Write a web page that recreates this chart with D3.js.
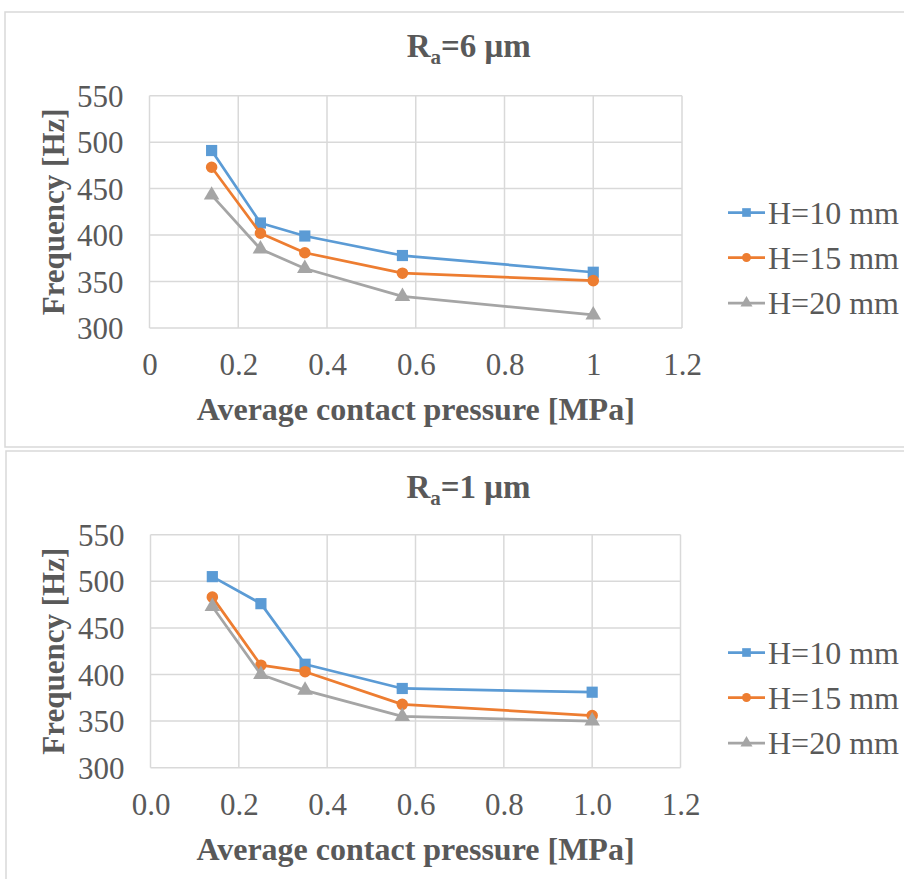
<!DOCTYPE html>
<html><head><meta charset="utf-8">
<script src="https://cdn.jsdelivr.net/npm/d3@7"></script>
<style>
body{margin:0;background:#fff;}
svg text{font-family:"Liberation Serif","Times New Roman",serif;fill:#595959;}
</style></head>
<body><svg id="c" width="904" height="879" font-family="Liberation Serif"></svg>
<script>
const pressure = [0.14, 0.25, 0.35, 0.57, 1.0];
const seriesNames = ["H=10 mm", "H=15 mm", "H=20 mm"];
const colors = ["#5b9bd5", "#ed7d31", "#a5a5a5"];
const shapes = ["square", "circle", "triangle"];
// Ra = 6 um
const ra6_H10 = [491, 413, 399, 378, 360];
const ra6_H15 = [473, 402, 381, 359, 351];
const ra6_H20 = [443, 385, 364, 334, 314];
// Ra = 1 um
const ra1_H10 = [505, 476, 411, 385, 381];
const ra1_H15 = [483, 410, 403, 368, 356];
const ra1_H20 = [473, 400, 383, 355, 350];
const xTicks = [0, 0.2, 0.4, 0.6, 0.8, 1.0, 1.2];
const yTicks = [300, 350, 400, 450, 500, 550];
const xTickLabelsTop = ["0", "0.2", "0.4", "0.6", "0.8", "1", "1.2"];
const xTickLabelsBottom = ["0.0", "0.2", "0.4", "0.6", "0.8", "1.0", "1.2"];

const svg = d3.select("#c");

function panel(cfg){
  const g = svg.append("g");
  g.append("rect").attr("x", cfg.box[0]).attr("y", cfg.box[1]).attr("width", cfg.box[2]).attr("height", cfg.box[3])
    .attr("fill", "#fff").attr("stroke", "#d9d9d9").attr("stroke-width", 1.5);
  const x = d3.scaleLinear().domain([0, 1.2]).range([cfg.left, cfg.right]);
  const y = d3.scaleLinear().domain([300, 550]).range([cfg.bottom, cfg.top]);
  // grid
  g.append("g").selectAll("line").data(xTicks).join("line")
    .attr("x1", d => x(d)).attr("x2", d => x(d)).attr("y1", cfg.top).attr("y2", cfg.bottom)
    .attr("stroke", "#d9d9d9").attr("stroke-width", 1.5);
  g.append("g").selectAll("line").data(yTicks).join("line")
    .attr("x1", cfg.left).attr("x2", cfg.right).attr("y1", d => y(d)).attr("y2", d => y(d))
    .attr("stroke", "#d9d9d9").attr("stroke-width", 1.5);
  // axes (labels only)
  const yAxis = g.append("g").attr("transform", `translate(${cfg.left},0)`)
    .call(d3.axisLeft(y).tickValues(yTicks).tickSize(0).tickPadding(26));
  yAxis.attr("font-family", "Liberation Serif");
  yAxis.select(".domain").remove();
  yAxis.selectAll("text").attr("font-size", 31).attr("fill", "#595959").attr("dy", "0.34em");
  const xAxis = g.append("g").attr("transform", `translate(0,${cfg.bottom})`)
    .call(d3.axisBottom(x).tickValues(xTicks).tickSize(0).tickPadding(36).tickFormat((d, i) => cfg.xLabels[i]));
  xAxis.attr("font-family", "Liberation Serif");
  xAxis.select(".domain").remove();
  xAxis.selectAll("text").attr("font-size", 31).attr("fill", "#595959").attr("dy", "0.36em");
  // title
  const t = g.append("text").attr("x", (cfg.left + cfg.right) / 2 + 53).attr("y", cfg.titleY)
    .attr("text-anchor", "middle").attr("font-size", 33).attr("font-weight", "bold");
  t.append("tspan").text("R");
  t.append("tspan").text("a").attr("font-size", 21).attr("dy", 7);
  t.append("tspan").text("=" + cfg.ra + " μm").attr("dy", -7);
  // axis titles
  g.append("text").attr("transform", `translate(${cfg.yTitleX},${(cfg.top + cfg.bottom) / 2}) rotate(-90)`)
    .attr("text-anchor", "middle").attr("font-size", 31).attr("font-weight", "bold").text("Frequency [Hz]");
  g.append("text").attr("x", (cfg.left + cfg.right) / 2).attr("y", cfg.bottom + 92)
    .attr("text-anchor", "middle").attr("font-size", 32).attr("font-weight", "bold").text("Average contact pressure [MPa]");
  // series
  const line = d3.line().x(d => x(d[0])).y(d => y(d[1]));
  const sym = {square: d3.symbolSquare, circle: d3.symbolCircle, triangle: d3.symbolTriangle};
  const sz = {square: 125, circle: 105, triangle: 105};
  cfg.series.forEach((vals, i) => {
    const pts = pressure.map((p, j) => [p, vals[j]]);
    g.append("path").datum(pts).attr("d", line).attr("fill", "none")
      .attr("stroke", colors[i]).attr("stroke-width", 2.75).attr("stroke-linejoin", "round");
    g.append("g").selectAll("path").data(pts).join("path")
      .attr("transform", d => `translate(${x(d[0])},${y(d[1])})`)
      .attr("d", d3.symbol().type(sym[shapes[i]]).size(sz[shapes[i]])).attr("fill", colors[i]);
  });
  // legend
  cfg.legendY.forEach((ly, i) => {
    const lg = g.append("g");
    lg.append("line").attr("x1", 728).attr("x2", 765).attr("y1", ly).attr("y2", ly)
      .attr("stroke", colors[i]).attr("stroke-width", 2.75);
    lg.append("path").attr("transform", `translate(746.5,${ly})`)
      .attr("d", d3.symbol().type(sym[shapes[i]]).size(sz[shapes[i]] * 0.6)).attr("fill", colors[i]);
    lg.append("text").attr("x", 768).attr("y", ly).attr("dy", "0.35em").attr("font-size", 32).text(seriesNames[i]);
  });
}

panel({box: [5, 12, 960, 435], left: 149.5, right: 682, top: 95.7, bottom: 328, titleY: 57, yTitleX: 64,
  ra: "6", xLabels: xTickLabelsTop, series: [ra6_H10, ra6_H15, ra6_H20], legendY: [212.5, 257.5, 303]});
panel({box: [6, 451, 960, 460], left: 150.5, right: 680.5, top: 534.7, bottom: 767.7, titleY: 498, yTitleX: 64,
  ra: "1", xLabels: xTickLabelsBottom, series: [ra1_H10, ra1_H15, ra1_H20], legendY: [652.5, 697.5, 743]});
</script></body></html>
